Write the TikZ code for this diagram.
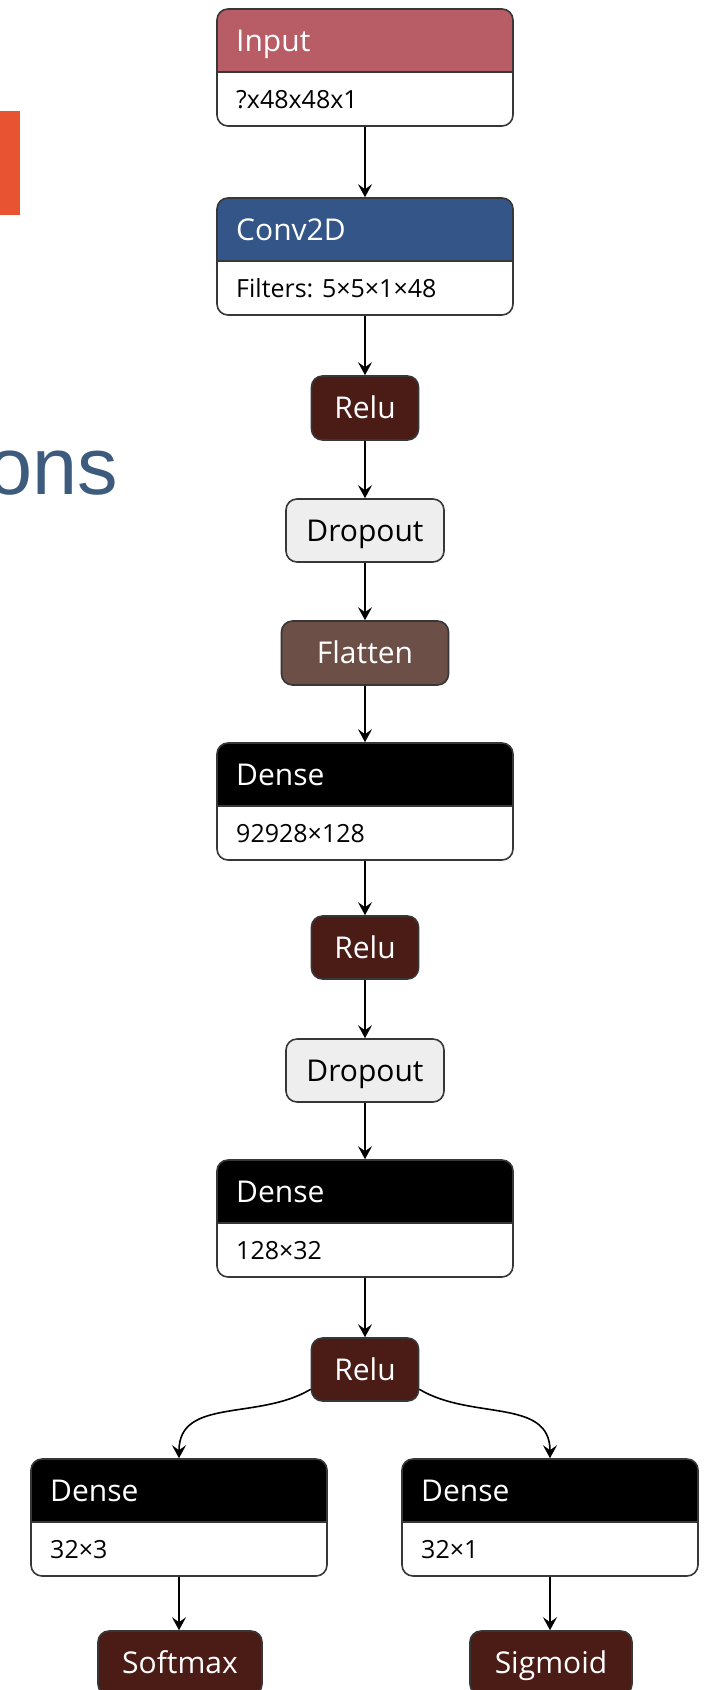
\documentclass[tikz,border=0pt]{standalone}
\usepackage{fontspec}
\setmainfont{Open Sans}
\newfontfamily\arialf{Liberation Sans}
\usetikzlibrary{arrows.meta}
\definecolor{bordercol}{RGB}{55,55,55}
\definecolor{inputcol}{RGB}{184,92,102}
\definecolor{convcol}{RGB}{51,85,136}
\definecolor{actcol}{RGB}{75,27,22}
\definecolor{shapecol}{RGB}{108,79,71}
\definecolor{dropcol}{RGB}{238,238,238}
\definecolor{orangecol}{RGB}{232,84,50}
\definecolor{slatecol}{RGB}{60,91,125}
\newcommand\ttlfont{\fontsize{30}{36}\selectfont}
\newcommand\bdyfont{\fontsize{25}{30}\selectfont}
\tikzset{
  layer/.style={draw=bordercol, line width=1.6pt, rounded corners=11pt, inner sep=0pt},
  sepline/.style={draw=bordercol, line width=1.4pt},
  ttl/.style={font=\ttlfont, text=white, inner sep=0pt},
  bdy/.style={font=\bdyfont, text=black, inner sep=0pt},
  opbox/.style={draw=bordercol, line width=1.6pt, rounded corners=11pt, inner sep=0pt,
    font=\ttlfont, text height=21pt, text depth=0pt},
  arr/.style={draw=black, line width=1.6pt, -{Stealth[length=13pt,width=14pt,inset=5pt]}}
}
% name, left, right, top, split, bottom, color, title, body
\newcommand\layerbox[9]{%
  \begin{scope}
    \clip[rounded corners=11pt] (#2,#4) rectangle (#3,#6);
    \fill[white] (#2,#4) rectangle (#3,#6);
    \fill[#7] (#2,#4) rectangle (#3,#5);
  \end{scope}
  \draw[sepline] (#2,#5) -- (#3,#5);
  \node[layer, minimum width={#3-#2}, minimum height={#6-#4}] (#1) at ({(#2+#3)/2},{(#4+#6)/2}) {};
  \node[ttl, anchor=base west] (#1-t) at ({#2+19},{(#4+#5)/2+11}) {#8};
  \node[bdy, anchor=base west] (#1-b) at ({#2+19},{(#5+#6)/2+9}) {#9};
}
% name, cx, top, bottom, width, fill, text color, label
\newcommand\oper[8]{%
  \node[opbox, fill=#6, text=#7, minimum width=#5, minimum height={#4-#3}] (#1) at (#2,{(#3+#4)/2}) {#8};
}
\begin{document}
\begin{tikzpicture}[x=1pt,y=-1pt]
\useasboundingbox (0,0) rectangle (706,1690);
\fill[white] (0,0) rectangle (706,1690);
\clip (0,0) rectangle (706,1690);

% left fragments
\fill[orangecol] (0,111) rectangle (20,215);
\node[anchor=base east, inner sep=0pt, text=slatecol, font=\arialf\fontsize{81}{81}\selectfont] (ons) at (118,494) {ons};

% layers
\layerbox{input}{217}{513}{9}{72}{126}{inputcol}{Input}{?x48x48x1}
\layerbox{conv}{217}{513}{198}{261}{315}{convcol}{Conv2D}{Filters: 5×5×1×48}
\oper{relu1}{365}{376}{440}{107}{actcol}{white}{Relu}
\oper{drop1}{365}{499}{562}{158}{dropcol}{black}{Dropout}
\oper{flat}{365}{621}{685}{167}{shapecol}{white}{Flatten}
\layerbox{dense1}{217}{513}{743}{806}{860}{black}{Dense}{92928×128}
\oper{relu2}{365}{916}{979}{107}{actcol}{white}{Relu}
\oper{drop2}{365}{1039}{1102}{158}{dropcol}{black}{Dropout}
\layerbox{dense2}{217}{513}{1160}{1223}{1277}{black}{Dense}{128×32}
\oper{relu3}{365}{1338}{1401}{107}{actcol}{white}{Relu}
\layerbox{densel}{31}{327}{1459}{1522}{1576}{black}{Dense}{32×3}
\layerbox{denser}{402}{698}{1459}{1522}{1576}{black}{Dense}{32×1}
\oper{softmax}{180}{1631}{1695}{164}{actcol}{white}{Softmax}
\oper{sigmoid}{551}{1631}{1695}{162}{actcol}{white}{Sigmoid}

% connectors
\draw[arr] (input.south) -- (conv.north);
\draw[arr] (conv.south) -- (relu1.north);
\draw[arr] (relu1.south) -- (drop1.north);
\draw[arr] (drop1.south) -- (flat.north);
\draw[arr] (flat.south) -- (dense1.north);
\draw[arr] (dense1.south) -- (relu2.north);
\draw[arr] (relu2.south) -- (drop2.north);
\draw[arr] (drop2.south) -- (dense2.north);
\draw[arr] (dense2.south) -- (relu3.north);
\draw[arr] (relu3.200) to[out=211, in=90, looseness=1.05] (densel.north);
\draw[arr] (relu3.340) to[out=-31, in=90, looseness=1.05] (denser.north);
\draw[arr] (densel.south) -- (densel.south |- softmax.north);
\draw[arr] (denser.south) -- (denser.south |- sigmoid.north);
\end{tikzpicture}
\end{document}
